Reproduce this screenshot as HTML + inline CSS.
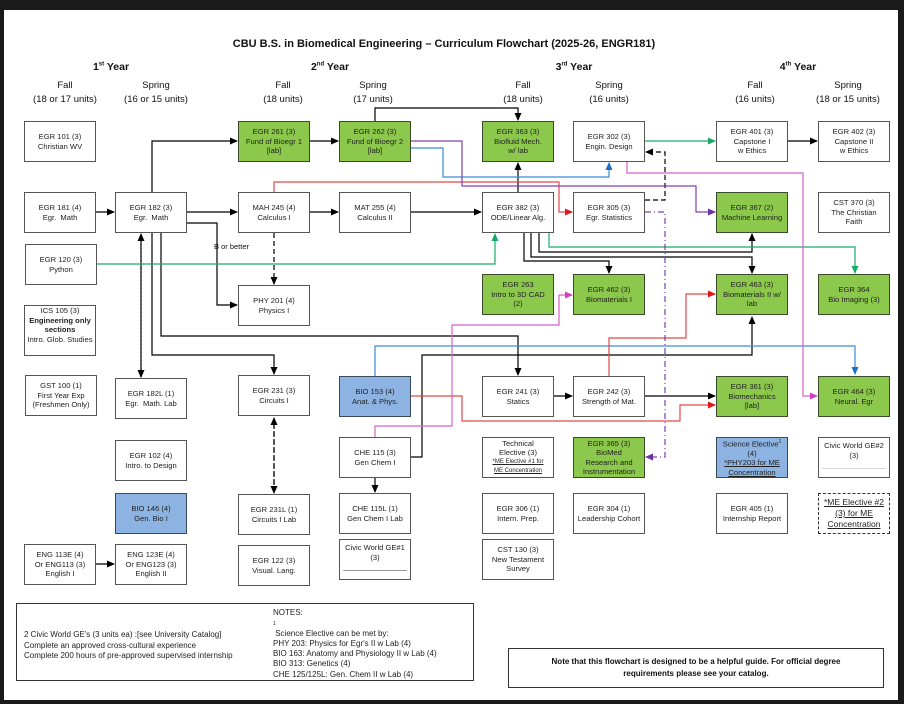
<!DOCTYPE html>
<html><head><meta charset="utf-8"><style>
body{margin:0;background:#1a1a1a;width:904px;height:704px;position:relative;overflow:hidden;font-family:"Liberation Sans",Arial,sans-serif;}
#pg{position:absolute;left:4px;top:10px;width:894px;height:690px;background:#fff;}
.b{position:absolute;width:70px;height:39px;border:1.3px solid #555;background:#fff;font-size:7.6px;line-height:9.5px;color:#222;display:flex;align-items:center;justify-content:center;text-align:center;box-sizing:content-box;}
.b>span{display:block;width:100%;}
.g{background:#8cc84b;border-color:#3a4a2a;}
.bl{background:#8db3e2;border-color:#3a4a5a;}
.t{position:absolute;text-align:center;color:#111;white-space:nowrap;}
.h{font-weight:bold;font-size:10px;}
.s{font-size:9.5px;line-height:14px;}
u{text-decoration:underline}
</style></head><body>
<div id="pg"></div>
<svg width="904" height="704" style="position:absolute;left:0;top:0" xmlns="http://www.w3.org/2000/svg">
<defs>
<marker id="ak" markerWidth="8" markerHeight="8" refX="7" refY="4" orient="auto" markerUnits="userSpaceOnUse"><path d="M0,0.5 L8,4 L0,7.5z" fill="#000"/></marker>
<marker id="ag" markerWidth="8" markerHeight="8" refX="7" refY="4" orient="auto" markerUnits="userSpaceOnUse"><path d="M0,0.5 L8,4 L0,7.5z" fill="#1aaa66"/></marker>
<marker id="ab" markerWidth="8" markerHeight="8" refX="7" refY="4" orient="auto" markerUnits="userSpaceOnUse"><path d="M0,0.5 L8,4 L0,7.5z" fill="#1a70c8"/></marker>
<marker id="ar" markerWidth="8" markerHeight="8" refX="7" refY="4" orient="auto" markerUnits="userSpaceOnUse"><path d="M0,0.5 L8,4 L0,7.5z" fill="#e01818"/></marker>
<marker id="ap" markerWidth="8" markerHeight="8" refX="7" refY="4" orient="auto" markerUnits="userSpaceOnUse"><path d="M0,0.5 L8,4 L0,7.5z" fill="#7030a0"/></marker>
<marker id="am" markerWidth="8" markerHeight="8" refX="7" refY="4" orient="auto" markerUnits="userSpaceOnUse"><path d="M0,0.5 L8,4 L0,7.5z" fill="#d040c0"/></marker>
</defs>
<g fill="none" stroke-width="1.2">
<g stroke="#000">
<path d="M96,212H114" marker-end="url(#ak)"/>
<path d="M152,192V141H237" marker-end="url(#ak)"/>
<path d="M310,141H338" marker-end="url(#ak)"/>
<path d="M375,121V108H518V120" marker-end="url(#ak)"/>
<path d="M187,212H237" marker-end="url(#ak)"/>
<path d="M310,212H338" marker-end="url(#ak)"/>
<path d="M411,212H481" marker-end="url(#ak)"/>
<path d="M518,192V163" marker-end="url(#ak)"/>
<path d="M187,223H217V305H237" marker-end="url(#ak)"/>
<path d="M161,233V336H518V375" marker-end="url(#ak)"/>
<path d="M152,233V355H274V374" marker-end="url(#ak)"/>
<path d="M411,457H422V355H752V317" marker-end="url(#ak)"/>
<path d="M375,478V492" marker-end="url(#ak)"/>
<path d="M96,564H114" marker-end="url(#ak)"/>
<path d="M554,396H572" marker-end="url(#ak)"/>
<path d="M645,396H715" marker-end="url(#ak)"/>
<path d="M524,233V261H609V273" marker-end="url(#ak)"/>
<path d="M531,233V257H752V273" marker-end="url(#ak)"/>
<path d="M539,233V252H752V234" marker-end="url(#ak)"/>
<path d="M788,141H817" marker-end="url(#ak)"/>
<path d="M645,200H665V152H646" stroke-dasharray="5,3" marker-end="url(#ak)"/>
<path d="M274,233V284" stroke-dasharray="5,3" marker-end="url(#ak)"/>
<path d="M141,377V234" stroke-dasharray="5,3" marker-end="url(#ak)"/>
<path d="M141,240V377" stroke-dasharray="5,3" marker-end="url(#ak)"/>
<path d="M274,492V418" stroke-dasharray="5,3" marker-end="url(#ak)"/>
<path d="M274,424V493" stroke-dasharray="5,3" marker-end="url(#ak)"/>
</g>
<g stroke="#1aaa66">
<path d="M96,264H495V234" marker-end="url(#ag)"/>
<path d="M645,141H715" marker-end="url(#ag)"/>
<path d="M549,233V247H855V273" marker-end="url(#ag)"/>
</g>
<g stroke="#3a8ad8">
<path d="M411,148H443V177H609V163" marker-end="url(#ab)"/>
<path d="M375,376V346H855V374" marker-end="url(#ab)"/>
</g>
<g stroke="#e04848">
<path d="M274,192V182H559V212H572" marker-end="url(#ar)"/>
<path d="M411,396H462V421H680V405H715" marker-end="url(#ar)"/>
<path d="M609,376V338H686V294H715" marker-end="url(#ar)"/>
</g>
<g stroke="#8040b0">
<path d="M411,141H462V186H696V212H715" marker-end="url(#ap)"/>
<path d="M645,212H665V457H646" stroke-dasharray="6,3,1,3" marker-end="url(#ap)"/>
</g>
<g stroke="#d860c8">
<path d="M627,162V173H803V396H817" marker-end="url(#am)"/>
<path d="M375,437V426H452V325H559V295H572" marker-end="url(#am)"/>
</g>
</g>
</svg>
<div class="t h" style="left:0;width:888px;top:38px;font-size:11px">CBU B.S. in Biomedical Engineering – Curriculum Flowchart (2025-26, ENGR181)</div>
<div class="t h" style="left:71px;width:80px;top:61px;font-size:10.5px">1<sup style="font-size:6px">st</sup> Year</div>
<div class="t h" style="left:290px;width:80px;top:61px;font-size:10.5px">2<sup style="font-size:6px">nd</sup> Year</div>
<div class="t h" style="left:534px;width:80px;top:61px;font-size:10.5px">3<sup style="font-size:6px">rd</sup> Year</div>
<div class="t h" style="left:758px;width:80px;top:61px;font-size:10.5px">4<sup style="font-size:6px">th</sup> Year</div>
<div class="t s" style="left:15px;width:100px;top:79px">Fall<br>(18 or 17 units)</div>
<div class="t s" style="left:106px;width:100px;top:79px">Spring<br>(16 or 15 units)</div>
<div class="t s" style="left:233px;width:100px;top:79px">Fall<br>(18 units)</div>
<div class="t s" style="left:323px;width:100px;top:79px">Spring<br>(17 units)</div>
<div class="t s" style="left:473px;width:100px;top:79px">Fall<br>(18 units)</div>
<div class="t s" style="left:559px;width:100px;top:79px">Spring<br>(16 units)</div>
<div class="t s" style="left:705px;width:100px;top:79px">Fall<br>(16 units)</div>
<div class="t s" style="left:798px;width:100px;top:79px">Spring<br>(18 or 15 units)</div>
<div class="t" style="left:214px;top:242px;font-size:7.5px">B or better</div>

<div class="b" style="left:24px;top:121px"><span>EGR 101 (3)<br>Christian WV</span></div>
<div class="b" style="left:24px;top:192px"><span>EGR 181 (4)<br>Egr.&nbsp; Math</span></div>
<div class="b" style="left:25px;top:244px"><span>EGR 120 (3)<br>Python</span></div>
<div class="b" style="left:24px;top:305px;height:49px;align-items:flex-start;overflow:hidden"><span>ICS 105 (3)<br><b>Engineering only sections</b><br>Intro. Glob. Studies</span></div>
<div class="b" style="left:25px;top:375px"><span>GST 100 (1)<br>First Year Exp<br>(Freshmen Only)</span></div>
<div class="b" style="left:24px;top:544px"><span>ENG 113E (4)<br>Or ENG113 (3)<br>English I</span></div>

<div class="b" style="left:115px;top:192px"><span>EGR 182 (3)<br>Egr.&nbsp; Math</span></div>
<div class="b" style="left:115px;top:378px"><span>EGR 182L (1)<br>Egr.&nbsp; Math. Lab</span></div>
<div class="b" style="left:115px;top:440px"><span>EGR 102 (4)<br>Intro. to Design</span></div>
<div class="b bl" style="left:115px;top:493px"><span>BIO 146 (4)<br>Gen. Bio I</span></div>
<div class="b" style="left:115px;top:544px"><span>ENG 123E (4)<br>Or ENG123 (3)<br>English II</span></div>

<div class="b g" style="left:238px;top:121px"><span>EGR 261 (3)<br>Fund of Bioegr 1<br>[lab]</span></div>
<div class="b" style="left:238px;top:192px"><span>MAH 245 (4)<br>Calculus I</span></div>
<div class="b" style="left:238px;top:285px"><span>PHY 201 (4)<br>Physics I</span></div>
<div class="b" style="left:238px;top:375px"><span>EGR 231 (3)<br>Circuits I</span></div>
<div class="b" style="left:238px;top:494px"><span>EGR 231L (1)<br>Circuits I Lab</span></div>
<div class="b" style="left:238px;top:545px"><span>EGR 122 (3)<br>Visual. Lang.</span></div>

<div class="b g" style="left:339px;top:121px"><span>EGR 262 (3)<br>Fund of Bioegr 2<br>[lab]</span></div>
<div class="b" style="left:339px;top:192px"><span>MAT 255 (4)<br>Calculus II</span></div>
<div class="b bl" style="left:339px;top:376px"><span>BIO 153 (4)<br>Anat. &amp; Phys.</span></div>
<div class="b" style="left:339px;top:437px"><span>CHE 115 (3)<br>Gen Chem I</span></div>
<div class="b" style="left:339px;top:493px"><span>CHE 115L (1)<br>Gen Chem I Lab</span></div>
<div class="b" style="left:339px;top:539px;align-items:flex-start;padding-top:0"><span style="padding-top:3px">Civic World GE#1<br>(3)<br>_______________</span></div>

<div class="b g" style="left:482px;top:121px"><span>EGR 363 (3)<br>Biofluid Mech.<br>w/ lab</span></div>
<div class="b" style="left:482px;top:192px"><span>EGR 382 (3)<br>ODE/Linear Alg.</span></div>
<div class="b g" style="left:482px;top:274px"><span>EGR 263<br>Intro to 3D CAD<br>(2)</span></div>
<div class="b" style="left:482px;top:376px"><span>EGR 241 (3)<br>Statics</span></div>
<div class="b" style="left:482px;top:437px;line-height:8.5px"><span>Technical<br>Elective (3)<br><u style="font-size:6px;line-height:8px">*ME Elective #1 for<br>ME Concentration</u></span></div>
<div class="b" style="left:482px;top:493px"><span>EGR 306 (1)<br>Intern. Prep.</span></div>
<div class="b" style="left:482px;top:539px"><span>CST 130 (3)<br>New Testament<br>Survey</span></div>

<div class="b" style="left:573px;top:121px"><span>EGR 302 (3)<br>Engin. Design</span></div>
<div class="b" style="left:573px;top:192px"><span>EGR 305 (3)<br>Egr. Statistics</span></div>
<div class="b g" style="left:573px;top:274px"><span>EGR 462 (3)<br>Biomaterials I</span></div>
<div class="b" style="left:573px;top:376px"><span>EGR 242 (3)<br>Strength of Mat.</span></div>
<div class="b g" style="left:573px;top:437px"><span>EGR 365 (3)<br>BioMed<br>Research and<br>Instrumentation</span></div>
<div class="b" style="left:573px;top:493px"><span>EGR 304 (1)<br>Leadership Cohort</span></div>

<div class="b" style="left:716px;top:121px"><span>EGR 401 (3)<br>Capstone I<br>w Ethics</span></div>
<div class="b g" style="left:716px;top:192px"><span>EGR 367 (2)<br>Machine Learning</span></div>
<div class="b g" style="left:716px;top:274px"><span>EGR 463 (3)<br>Biomaterials II w/<br>lab</span></div>
<div class="b g" style="left:716px;top:376px"><span>EGR 361 (3)<br>Biomechanics<br>[lab]</span></div>
<div class="b bl" style="left:716px;top:437px"><span>Science Elective<sup style="font-size:5px">1</sup><br>(4)<br><u>*PHY203 for ME<br>Concentration</u></span></div>
<div class="b" style="left:716px;top:493px"><span>EGR 405 (1)<br>Internship Report</span></div>

<div class="b" style="left:818px;top:121px"><span>EGR 402 (3)<br>Capstone II<br>w Ethics</span></div>
<div class="b" style="left:818px;top:192px"><span>CST 370 (3)<br>The Christian<br>Faith</span></div>
<div class="b g" style="left:818px;top:274px"><span>EGR 364<br>Bio Imaging (3)</span></div>
<div class="b g" style="left:818px;top:376px"><span>EGR 464 (3)<br>Neural. Egr</span></div>
<div class="b" style="left:818px;top:437px;align-items:flex-start"><span style="padding-top:3px">Civic World GE#2<br>(3)<br><span style="color:#aaa">_______________</span></span></div>
<div class="b" style="left:818px;top:493px;border:1.3px dashed #333;font-size:8.5px;line-height:11px"><span><u>*ME Elective #2<br>(3) for ME<br>Concentration</u></span></div>

<div style="position:absolute;left:16px;top:603px;width:456px;height:76px;border:1.2px solid #333;background:#fff;font-size:8px;color:#222;">
<div style="position:absolute;left:7px;top:26px;line-height:10.5px">2 Civic World GE's (3 units ea) :[see University Catalog]<br>Complete an approved cross-cultural experience<br>Complete 200 hours of pre-approved supervised internship</div>
<div style="position:absolute;left:256px;top:4px;line-height:10.3px">NOTES:<br><span style="font-size:5px;line-height:5px">1</span><br>&nbsp;Science Elective can be met by:<br>PHY 203: Physics for Egr's II w Lab (4)<br>BIO 163: Anatomy and Physiology II w Lab (4)<br>BIO 313: Genetics (4)<br>CHE 125/125L: Gen. Chem II w Lab (4)</div>
</div>
<div style="position:absolute;left:508px;top:648px;width:374px;height:38px;border:1.2px solid #333;background:#fff;font-size:8px;font-weight:bold;line-height:12px;text-align:center;display:flex;align-items:center;justify-content:center;color:#111"><span>Note that this flowchart is designed to be a helpful guide. For official degree<br>requirements please see your catalog.</span></div>
</body></html>
